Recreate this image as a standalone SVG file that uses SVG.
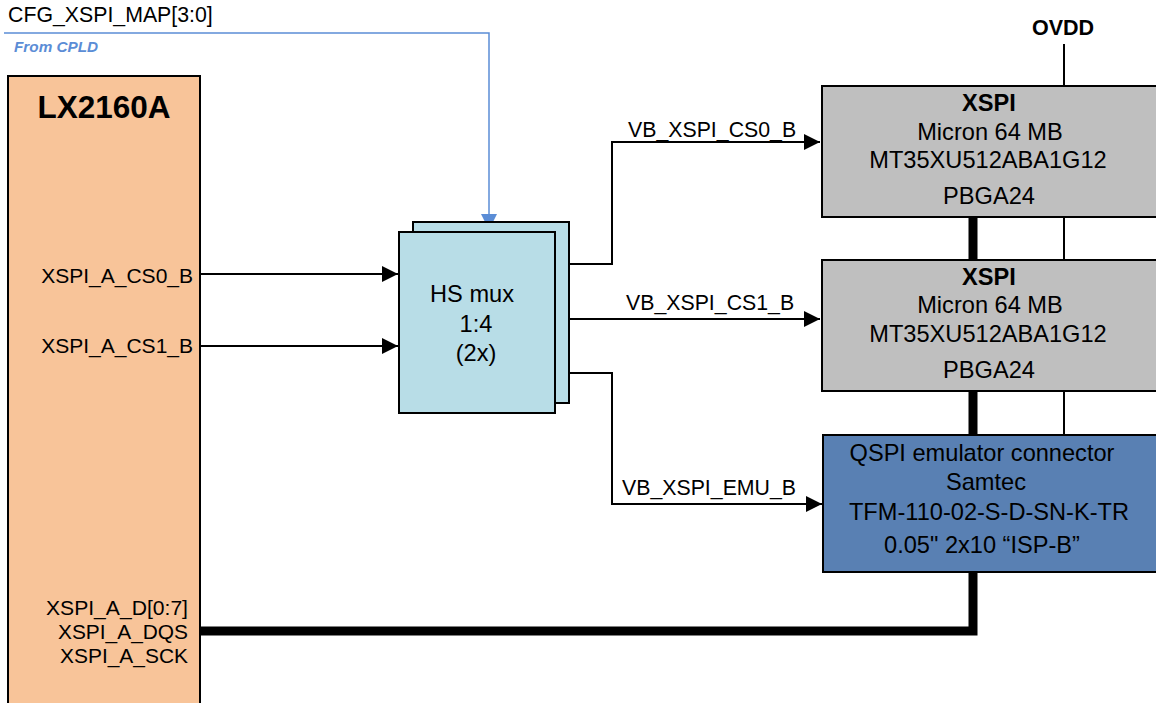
<svg xmlns="http://www.w3.org/2000/svg" width="1156" height="703" viewBox="0 0 1156 703">
<defs>
<style>
text{font-family:"Liberation Sans",Arial,sans-serif;fill:#000}
.lbl{font-size:21.3px}
.box{font-size:23.6px;text-anchor:middle}
.b{font-weight:bold}
.pin{font-size:21px;text-anchor:end}
.w{fill:none;stroke:#000;stroke-width:2}
</style>
<marker id="ah" viewBox="0 0 10 10" refX="10" refY="5" markerWidth="18" markerHeight="16" markerUnits="userSpaceOnUse" orient="auto"><path d="M0,0L10,5L0,10z" fill="#000"/></marker>
<marker id="ahb" viewBox="0 0 10 10" refX="10" refY="5" markerWidth="16" markerHeight="16" markerUnits="userSpaceOnUse" orient="auto"><path d="M0,0L10,5L0,10z" fill="#5B8DD6"/></marker>
</defs>
<rect width="1156" height="703" fill="#fff"/>
<text x="8" y="22" style="font-size:21.3px">CFG_XSPI_MAP[3:0]</text>
<text x="14" y="52" style="font-size:15.3px;font-weight:bold;font-style:italic;fill:#5B8DD6">From CPLD</text>
<g id="connectors">
<path d="M4,33H489V230" fill="none" stroke="#5B8DD6" stroke-width="1.5" marker-end="url(#ahb)"/>
<path class="w" d="M200,274H398" marker-end="url(#ah)"/>
<path class="w" d="M200,346H398" marker-end="url(#ah)"/>
<path class="w" d="M555,264H612V142H820" marker-end="url(#ah)"/>
<path class="w" d="M555,319H820" marker-end="url(#ah)"/>
<path class="w" d="M555,373H612V504H822" marker-end="url(#ah)"/>
<path d="M1064,44V86M1064,217V260M1064,391V435" fill="none" stroke="#000" stroke-width="2"/>
<path d="M973,217V260M973,391V435" fill="none" stroke="#000" stroke-width="9"/>
<path d="M200,631H973V572" fill="none" stroke="#000" stroke-width="9"/>
<text class="lbl" x="628" y="137">VB_XSPI_CS0_B</text>
<text class="lbl" x="626" y="310">VB_XSPI_CS1_B</text>
<text class="lbl" x="622" y="495">VB_XSPI_EMU_B</text>
<text x="1063" y="35" style="font-size:21.5px;font-weight:bold;text-anchor:middle">OVDD</text>
</g>
<g id="lx2160a">
<rect x="8" y="76" width="192" height="640" fill="#F8C499" stroke="#000" stroke-width="2"/>
<text x="104" y="118" style="font-size:31.5px;font-weight:bold;text-anchor:middle">LX2160A</text>
<text class="pin" x="193" y="283">XSPI_A_CS0_B</text>
<text class="pin" x="193" y="353">XSPI_A_CS1_B</text>
<text class="pin" x="188" y="615" style="font-size:19.5px" textLength="142" lengthAdjust="spacingAndGlyphs">XSPI_A_D[0:7]</text>
<text class="pin" x="188" y="639" style="font-size:19.5px" textLength="130" lengthAdjust="spacingAndGlyphs">XSPI_A_DQS</text>
<text class="pin" x="188" y="663" style="font-size:19.5px" textLength="128" lengthAdjust="spacingAndGlyphs">XSPI_A_SCK</text>
</g>
<g id="mux">
<rect x="413" y="222" width="156" height="181" fill="#B8DDE7" stroke="#000" stroke-width="2"/>
<rect x="399" y="232" width="156" height="181" fill="#B8DDE7" stroke="#000" stroke-width="2"/>
<text class="box" x="472" y="302">HS mux</text>
<text class="box" x="476" y="332">1:4</text>
<text class="box" x="476" y="361">(2x)</text>
</g>
<g id="xspi0">
<rect x="822" y="86" width="345" height="131" fill="#BFBFBF" stroke="#000" stroke-width="2"/>
<text class="box b" x="989" y="111">XSPI</text>
<text class="box" x="990" y="140">Micron 64 MB</text>
<text class="box" x="988" y="168">MT35XU512ABA1G12</text>
<text class="box" x="989" y="204">PBGA24</text>
</g>
<g id="xspi1">
<rect x="822" y="260" width="345" height="131" fill="#BFBFBF" stroke="#000" stroke-width="2"/>
<text class="box b" x="989" y="285">XSPI</text>
<text class="box" x="990" y="313">Micron 64 MB</text>
<text class="box" x="988" y="342">MT35XU512ABA1G12</text>
<text class="box" x="989" y="378">PBGA24</text>
</g>
<g id="qspi">
<rect x="823" y="435" width="345" height="137" fill="#5980B3" stroke="#000" stroke-width="2"/>
<text class="box" x="982" y="461">QSPI emulator connector</text>
<text class="box" x="986" y="490">Samtec</text>
<text class="box" x="989" y="520">TFM-110-02-S-D-SN-K-TR</text>
<text class="box" x="982" y="553">0.05" 2x10 “ISP-B”</text>
</g>
</svg>
